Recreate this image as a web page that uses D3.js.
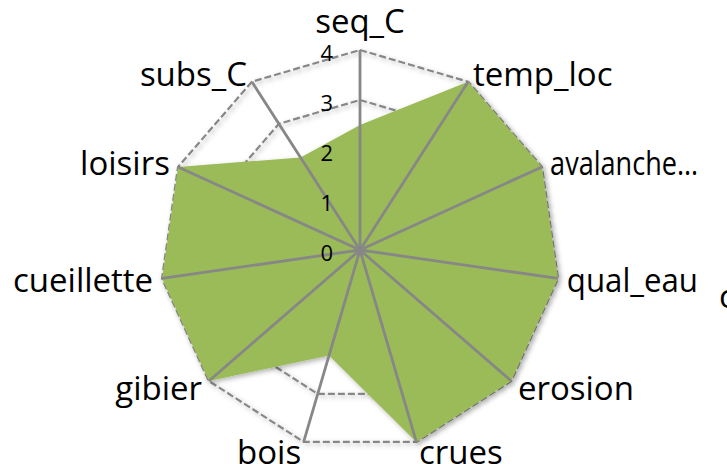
<!DOCTYPE html>
<html lang="fr">
<head>
  <meta charset="utf-8">
  <title>Radar</title>
  <script src="https://d3js.org/d3.v7.min.js"></script>
  <style>
    body { margin: 0; background: #fff; }
    svg { display: block; font-family: "Open Sans", sans-serif; }
  </style>
</head>
<body>
  <svg width="727" height="464"></svg>
  <script>
  const axes = ["seq_C", "temp_loc", "avalanche…", "qual_eau", "erosion", "crues", "bois", "gibier", "cueillette", "loisirs", "subs_C"];
  const values = [2.5, 4, 4, 4, 4, 4, 2.2, 4, 4, 4, 2.2];
  const ticks = [0, 1, 2, 3, 4];

  const svg = d3.select("svg");
  const cx = 360, cy = 250;
  const r = d3.scaleLinear().domain([0, 4]).range([0, 200]);
  const step = 2 * Math.PI / axes.length;
  const ang = i => i * step;

  // soft shadow like Excel
  const defs = svg.append("defs");
  const f = defs.append("filter").attr("id", "shadow")
    .attr("x", "-20%").attr("y", "-20%").attr("width", "140%").attr("height", "140%");
  f.append("feDropShadow").attr("dx", 2).attr("dy", 2).attr("stdDeviation", 2.5)
    .attr("flood-color", "#000").attr("flood-opacity", 0.3);

  const g = svg.append("g").attr("transform", `translate(${cx},${cy})`);

  const radial = d3.lineRadial().curve(d3.curveLinearClosed);

  // dashed rings (under the fill)
  g.selectAll(".ring")
    .data(ticks.filter(t => t > 0))
    .enter().append("path")
    .attr("class", "ring")
    .attr("d", t => radial(axes.map((a, i) => [ang(i), r(t)])))
    .attr("fill", "none")
    .attr("stroke", "#878787")
    .attr("stroke-width", 2.2)
    .attr("stroke-dasharray", "7,3")
    .attr("filter", "url(#shadow)");

  // filled area
  g.append("path")
    .attr("d", radial(values.map((v, i) => [ang(i), r(v)])))
    .attr("fill", "#9bbb59")
    .attr("filter", "url(#shadow)");

  // spokes
  g.selectAll(".spoke")
    .data(axes)
    .enter().append("line")
    .attr("x1", 0).attr("y1", 0)
    .attr("x2", (a, i) => r(4) * Math.sin(ang(i)))
    .attr("y2", (a, i) => -r(4) * Math.cos(ang(i)))
    .attr("stroke", "#878787")
    .attr("stroke-width", 2.8);

  // tick labels
  g.selectAll(".tick")
    .data(ticks)
    .enter().append("text")
    .attr("x", -27)
    .attr("y", t => -r(t) + 2)
    .attr("text-anchor", "end")
    .attr("dominant-baseline", "central")
    .attr("font-size", 22)
    .attr("fill", "#000")
    .text(t => t);

  // category labels
  const labels = g.selectAll(".lab")
    .data(axes)
    .enter().append("text")
    .attr("x", (a, i) => (r(4) + 9) * Math.sin(ang(i)))
    .attr("y", (a, i) => {
      const y = -(r(4) + 10) * Math.cos(ang(i));
      return i === 0 ? y - 7 : y;
    })
    .attr("text-anchor", (a, i) => {
      const s = Math.sin(ang(i));
      return Math.abs(s) < 0.05 ? "middle" : (s > 0 ? "start" : "end");
    })
    .attr("dominant-baseline", (a, i) => i === 0 ? "auto" : "central")
    .attr("font-size", 33)
    .attr("fill", "#000")
    .text(a => a);

  // keep right-hand labels clear of the edge text
  labels.each(function() {
    const el = d3.select(this);
    if (el.attr("text-anchor") !== "start") return;
    const x = +el.attr("x") + cx;
    const w = this.getComputedTextLength();
    if (x + w > 698) el.attr("textLength", 698 - x).attr("lengthAdjust", "spacingAndGlyphs");
  });

  // cut-off text at the right edge
  svg.append("text")
    .attr("x", 719).attr("y", 308)
    .attr("font-size", 33)
    .attr("fill", "#000")
    .text("c");
  </script>
</body>
</html>
